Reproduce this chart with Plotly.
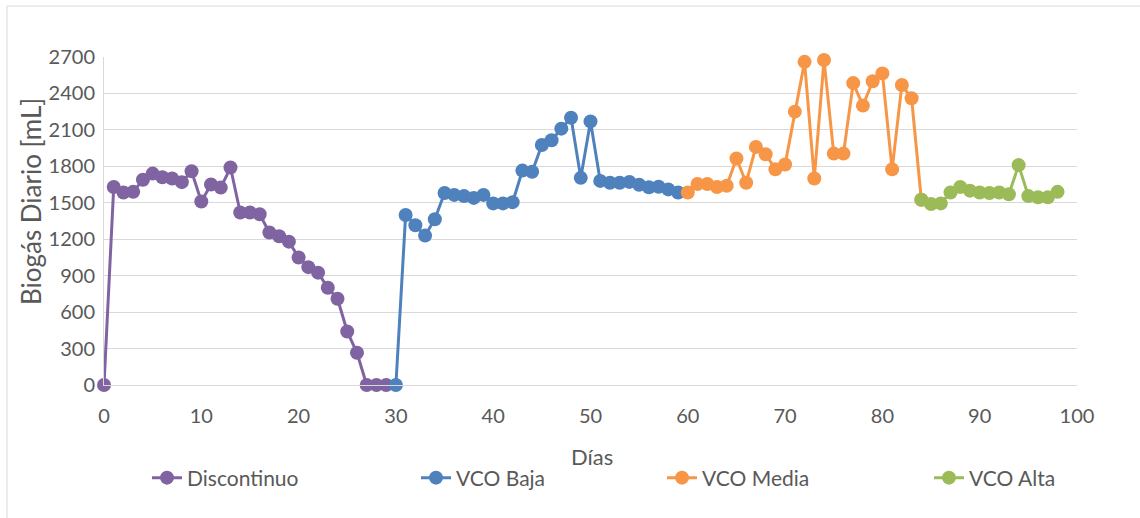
import plotly.graph_objects as go

# ---- data ----
disc_days = list(range(0, 30))
disc_vals = [0, 1630, 1585, 1590, 1690, 1740, 1710, 1700, 1670, 1760,
             1510, 1650, 1625, 1790, 1420, 1420, 1405, 1255, 1225, 1180,
             1050, 970, 925, 800, 710, 440, 265, 0, 0, 0]

baja_days = list(range(30, 60))
baja_vals = [0, 1400, 1315, 1230, 1365, 1580, 1565, 1555, 1540, 1565,
             1495, 1495, 1505, 1765, 1755, 1975, 2015, 2110, 2200, 1705,
             2170, 1680, 1665, 1665, 1672, 1648, 1628, 1632, 1610, 1585]

media_days = list(range(60, 85))
media_vals = [1585, 1655, 1655, 1630, 1640, 1865, 1665, 1960, 1900, 1775,
              1815, 2250, 2660, 1700, 2675, 1905, 1905, 2485, 2300, 2500,
              2565, 1775, 2470, 2360, 1525]

alta_days = list(range(84, 99))
alta_vals = [1525, 1490, 1495, 1585, 1630, 1600, 1585, 1580, 1585, 1570,
             1810, 1555, 1545, 1545, 1590]

series = [
    ("Discontinuo", disc_days, disc_vals, "#8064A2", "legend"),
    ("VCO Baja", baja_days, baja_vals, "#4F81BD", "legend2"),
    ("VCO Media", media_days, media_vals, "#F79646", "legend3"),
    ("VCO Alta", alta_days, alta_vals, "#9BBB59", "legend4"),
]

x_ticks = list(range(0, 101, 10))
y_ticks = list(range(0, 2701, 300))

FONT = "Lato, Carlito, Calibri, sans-serif"
TXT = "#595959"
GRID = "#D9D9D9"

fig = go.Figure()
for name, xs, ys, col, lg in series:
    fig.add_trace(go.Scatter(
        x=xs, y=ys, name=name, mode="lines+markers",
        line=dict(color=col, width=3),
        marker=dict(color=col, size=14),
        legend=lg, cliponaxis=False,
    ))

# plot area: x 104..1077, y 57..385
L, R, T, B = 104, 1077, 57, 385
W, H = 1140, 518
pw, ph = R - L, B - T

def px(xp):
    return (xp - L) / pw

def py(yp):
    return (B - yp) / ph

leg_common = dict(orientation="h", yanchor="middle", xanchor="left",
                  font=dict(family=FONT, size=21, color=TXT),
                  bgcolor="rgba(0,0,0,0)", itemwidth=30)
legend_x = [147, 416, 662, 929]
layout_legends = {}
for i, key in enumerate(["legend", "legend2", "legend3", "legend4"]):
    layout_legends[key] = dict(leg_common, x=px(legend_x[i]), y=py(478))

fig.update_layout(
    width=W, height=H,
    margin=dict(l=L, r=W - R, t=T, b=H - B),
    paper_bgcolor="white", plot_bgcolor="white",
    font=dict(family=FONT, size=20, color=TXT),
    showlegend=True,
    **layout_legends,
)

fig.update_xaxes(
    range=[0, 100], tickvals=x_ticks, showgrid=False,
    zeroline=False, showline=True, linecolor=GRID, linewidth=1,
    ticks="", tickfont=dict(family=FONT, size=20, color=TXT),
    ticklabelstandoff=13,
)
fig.update_yaxes(
    range=[0, 2700], tickvals=y_ticks, showgrid=True, gridcolor=GRID,
    gridwidth=1, zeroline=False, showline=True, linecolor=GRID, linewidth=1,
    ticks="", tickfont=dict(family=FONT, size=20, color=TXT),
    ticklabelstandoff=4,
)

fig.add_annotation(text="Biogás Diario [mL]", textangle=-90,
                   xref="paper", yref="paper", x=px(31), y=py(202),
                   xanchor="center", yanchor="middle", showarrow=False,
                   font=dict(family=FONT, size=26, color=TXT))
fig.add_annotation(text="Días", xref="paper", yref="paper",
                   x=px(592), y=py(456), xanchor="center", yanchor="middle",
                   showarrow=False, font=dict(family=FONT, size=22, color=TXT))

fig.add_shape(type="rect", xref="paper", yref="paper",
              x0=px(7), x1=px(1150), y0=py(530), y1=py(6),
              line=dict(color=GRID, width=1), layer="below")

fig.write_html("out.html")
